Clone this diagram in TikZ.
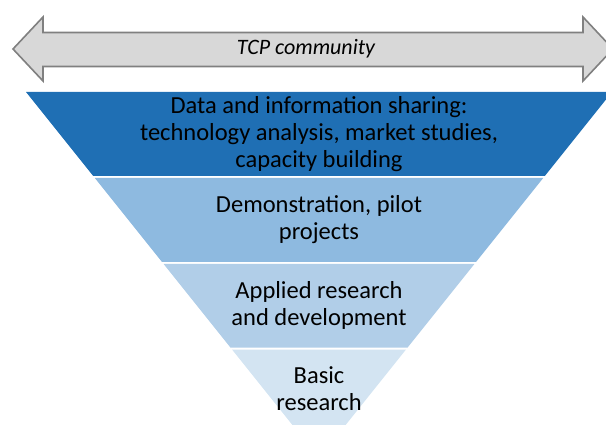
\documentclass[tikz,border=0pt]{standalone}
\usepackage{fontspec}
\setmainfont{Carlito}
\usetikzlibrary{arrows.meta, positioning}

\definecolor{bandA}{RGB}{31,111,180}
\definecolor{bandB}{RGB}{142,186,224}
\definecolor{bandC}{RGB}{177,206,232}
\definecolor{bandD}{RGB}{211,228,242}
\definecolor{arrowfill}{RGB}{216,216,216}
\definecolor{arrowline}{RGB}{128,128,128}

\begin{document}
\begin{tikzpicture}[
    x=1pt, y=-1pt,
    txt/.style={align=center, inner sep=0pt, font=\fontsize{24.5}{27}\selectfont},
    tcp/.style={inner sep=0pt, font=\fontsize{22}{26}\selectfont\itshape}
]

    \useasboundingbox (0,0) rectangle (606,425);
    \clip (0,0) rectangle (606,425);

    % Doppelpfeil oben
    \draw[arrowline, fill=arrowfill, line width=1.6pt, line join=miter]
        (13,49) -- (43,17) -- (43,32.5) -- (583,32.5) -- (583,17) -- (613,49)
        -- (583,81) -- (583,66.5) -- (43,66.5) -- (43,81) -- cycle;
    \node[tcp] (community) at (306,49) {TCP community};

    % Umgekehrte Pyramide, Kanten mit Steigung 0.8
    \foreach \ya/\yb/\col in {92/176/bandA, 178/262/bandB, 264/347.5/bandC, 349.5/458/bandD}
        \fill[\col] ({26+0.8*(\ya-92)},\ya) -- ({612-0.8*(\ya-92)},\ya)
            -- ({612-0.8*(\yb-92)},\yb) -- ({26+0.8*(\yb-92)},\yb) -- cycle;

    % Beschriftungen der Stufen
    \node[txt] (sharing) at (319,134) {Data and information sharing:\\technology analysis, market studies,\\capacity building};
    \node[txt] (demo) at (319,220) {Demonstration, pilot\\projects};
    \node[txt] (applied) at (319,305.5) {Applied research\\and development};
    \node[txt] (basic) at (319,389) {Basic\\research};

\end{tikzpicture}
\end{document}
